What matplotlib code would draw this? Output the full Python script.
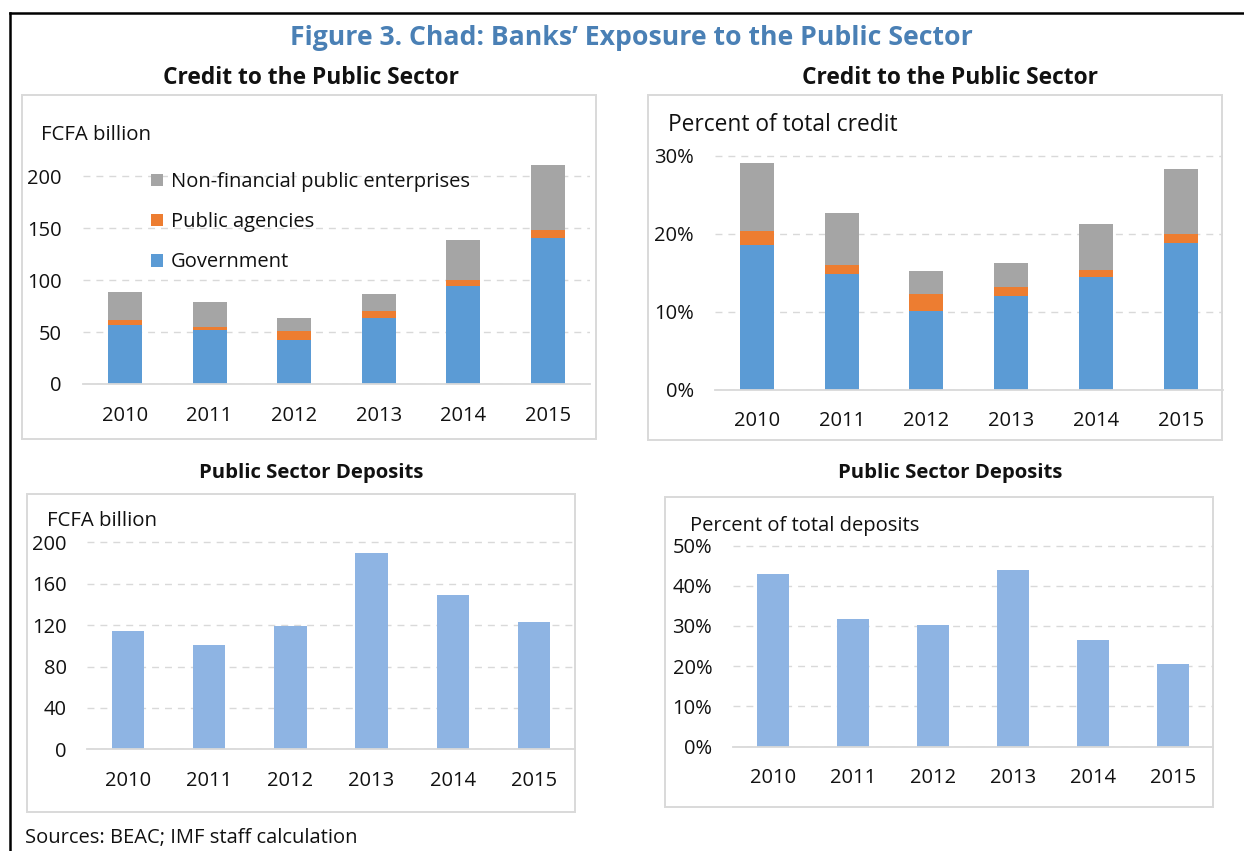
import matplotlib
matplotlib.use("Agg")
import matplotlib.pyplot as plt
from matplotlib.patches import Rectangle
from matplotlib.lines import Line2D
from matplotlib.ticker import PercentFormatter, FixedLocator

plt.rcParams['font.family'] = ['Open Sans', 'DejaVu Sans']

# ---- data ----
years = ["2010", "2011", "2012", "2013", "2014", "2015"]

# Credit to the public sector, FCFA billion (stacked)
credit_gov = [56.3, 51.5, 41.9, 63.7, 94.4, 140.2]
credit_agencies = [5.5, 3.5, 9.0, 6.1, 5.8, 8.3]
credit_nfpe = [26.5, 23.4, 12.5, 16.6, 38.4, 62.1]

# Credit to the public sector, percent of total credit (stacked)
share_gov = [18.5, 14.8, 10.1, 11.95, 14.45, 18.85]
share_agencies = [1.8, 1.2, 2.1, 1.15, 0.9, 1.1]
share_nfpe = [8.7, 6.6, 3.0, 3.1, 5.9, 8.4]

# Public sector deposits
deposits_bn = [114.0, 101.0, 119.5, 190.0, 149.0, 123.0]
deposits_pct = [42.9, 31.6, 30.2, 43.8, 26.4, 20.6]

series_names = ["Government", "Public agencies", "Non-financial public enterprises"]

# ---- style ----
C_GOV = "#5B9BD5"
C_AGE = "#ED7D31"
C_NFPE = "#A5A5A5"
C_DEP = "#8EB4E3"
C_GRID = "#D9D9D9"
C_TXT = "#111111"
C_TITLE = "#4A80B5"
TICK_FS = 14.5

W, H = 1244, 851
fig = plt.figure(figsize=(W / 100, H / 100), dpi=100)


def px_axes(x_left, x_right, y_zero, y_ref, ref_val, top_val):
    """Create axes from pixel geometry: y_zero is the pixel row of value 0,
    y_ref the pixel row of ref_val; top_val sets the upper y-limit."""
    per_unit = (y_zero - y_ref) / ref_val
    y_top = y_zero - top_val * per_unit
    ax = fig.add_axes([x_left / W, 1 - y_zero / H,
                       (x_right - x_left) / W, (y_zero - y_top) / H])
    ax.set_ylim(0, top_val)
    ax.set_xlim(-0.5, len(years) - 0.5)
    return ax


def style_axes(ax, yticks, percent=False):
    for s in ("top", "right", "left"):
        ax.spines[s].set_visible(False)
    ax.spines["bottom"].set_color(C_GRID)
    ax.spines["bottom"].set_linewidth(1.3)
    ax.yaxis.set_major_locator(FixedLocator(yticks))
    if percent:
        ax.yaxis.set_major_formatter(PercentFormatter(xmax=100, decimals=0))
    ax.set_xticks(range(len(years)))
    ax.set_xticklabels(years)
    ax.tick_params(axis="both", length=0, labelsize=TICK_FS, colors=C_TXT)
    ax.tick_params(axis="y", pad=15)
    ax.tick_params(axis="x", pad=15.5)
    ax.set_axisbelow(True)
    ax.grid(axis="y", color=C_GRID, linewidth=1.0, linestyle=(0, (5, 4.3)))
    ax.set_facecolor("none")


def panel_box(x0, y0, x1, y1):
    fig.patches.append(Rectangle((x0 / W, 1 - y1 / H), (x1 - x0) / W, (y1 - y0) / H,
                                 transform=fig.transFigure, fill=False,
                                 edgecolor=C_GRID, linewidth=1.4, zorder=0))


def fig_text(x, y, s, **kw):
    fig.text(x / W, 1 - y / H, s, color=kw.pop("color", C_TXT), **kw)


# outer frame (left and top rules)
fig.add_artist(Line2D([10 / W, 10 / W], [0, 1 - 12.5 / H], transform=fig.transFigure,
                      color="black", linewidth=1.8))
fig.add_artist(Line2D([10 / W, 1], [1 - 12.5 / H, 1 - 12.5 / H], transform=fig.transFigure,
                      color="black", linewidth=1.8))

# panel frames
panel_box(22, 95, 596, 439)
panel_box(648, 95, 1222, 440)
panel_box(27, 494, 575, 812)
panel_box(665, 497, 1213, 807)

# titles
fig_text(631, 38, "Figure 3. Chad: Banks\u2019 Exposure to the Public Sector",
         ha="center", va="center", fontsize=19.2, fontweight="bold", color=C_TITLE)
fig_text(311, 78, "Credit to the Public Sector", ha="center", va="center",
         fontsize=16.4, fontweight="bold")
fig_text(950, 78, "Credit to the Public Sector", ha="center", va="center",
         fontsize=16.4, fontweight="bold")
fig_text(311, 473, "Public Sector Deposits", ha="center", va="center",
         fontsize=14.7, fontweight="bold")
fig_text(950, 473, "Public Sector Deposits", ha="center", va="center",
         fontsize=14.7, fontweight="bold")

x = list(range(len(years)))
BW = 0.4

# --- top left: FCFA billion, stacked ---
ax1 = px_axes(82.7, 590.3, 384, 176, 200, 215)
style_axes(ax1, [0, 50, 100, 150, 200])
b_gov = ax1.bar(x, credit_gov, BW, color=C_GOV, label=series_names[0])
base = credit_gov
b_age = ax1.bar(x, credit_agencies, BW, bottom=base, color=C_AGE, label=series_names[1])
base = [a + b for a, b in zip(base, credit_agencies)]
b_nfpe = ax1.bar(x, credit_nfpe, BW, bottom=base, color=C_NFPE, label=series_names[2])
ax1.legend(handles=[b_nfpe, b_age, b_gov], loc="upper left",
           bbox_to_anchor=(151 / W, 1 - 172 / H), bbox_transform=fig.transFigure,
           frameon=False, fontsize=TICK_FS, handlelength=0.6, handleheight=0.6,
           handletextpad=0.4, labelspacing=1.0, borderpad=0, borderaxespad=0,
           labelcolor=C_TXT)
fig_text(41, 135, "FCFA billion", ha="left", va="center", fontsize=14.7)

# --- top right: percent of total credit, stacked ---
ax2 = px_axes(714.6, 1223, 389.5, 155.7, 30, 30.3)
style_axes(ax2, [0, 10, 20, 30], percent=True)
ax2.bar(x, share_gov, BW, color=C_GOV)
base = share_gov
ax2.bar(x, share_agencies, BW, bottom=base, color=C_AGE)
base = [a + b for a, b in zip(base, share_agencies)]
ax2.bar(x, share_nfpe, BW, bottom=base, color=C_NFPE)
fig_text(668, 125, "Percent of total credit", ha="left", va="center", fontsize=16.4)

# --- bottom left: deposits, FCFA billion ---
ax3 = px_axes(87.4, 574.6, 749.3, 542.3, 200, 202)
style_axes(ax3, [0, 40, 80, 120, 160, 200])
ax3.bar(x, deposits_bn, BW, color=C_DEP)
fig_text(47, 521, "FCFA billion", ha="left", va="center", fontsize=14.7)

# --- bottom right: deposits, percent of total deposits ---
ax4 = px_axes(733, 1213, 746.5, 545.5, 50, 50.5)
style_axes(ax4, [0, 10, 20, 30, 40, 50], percent=True)
ax4.bar(x, deposits_pct, BW, color=C_DEP)
fig_text(690, 526, "Percent of total deposits", ha="left", va="center", fontsize=14.5)

# source note
fig_text(25, 838, "Sources: BEAC; IMF staff calculation", ha="left", va="center", fontsize=14.5)

fig.savefig("out.png", dpi=100, facecolor="white")
